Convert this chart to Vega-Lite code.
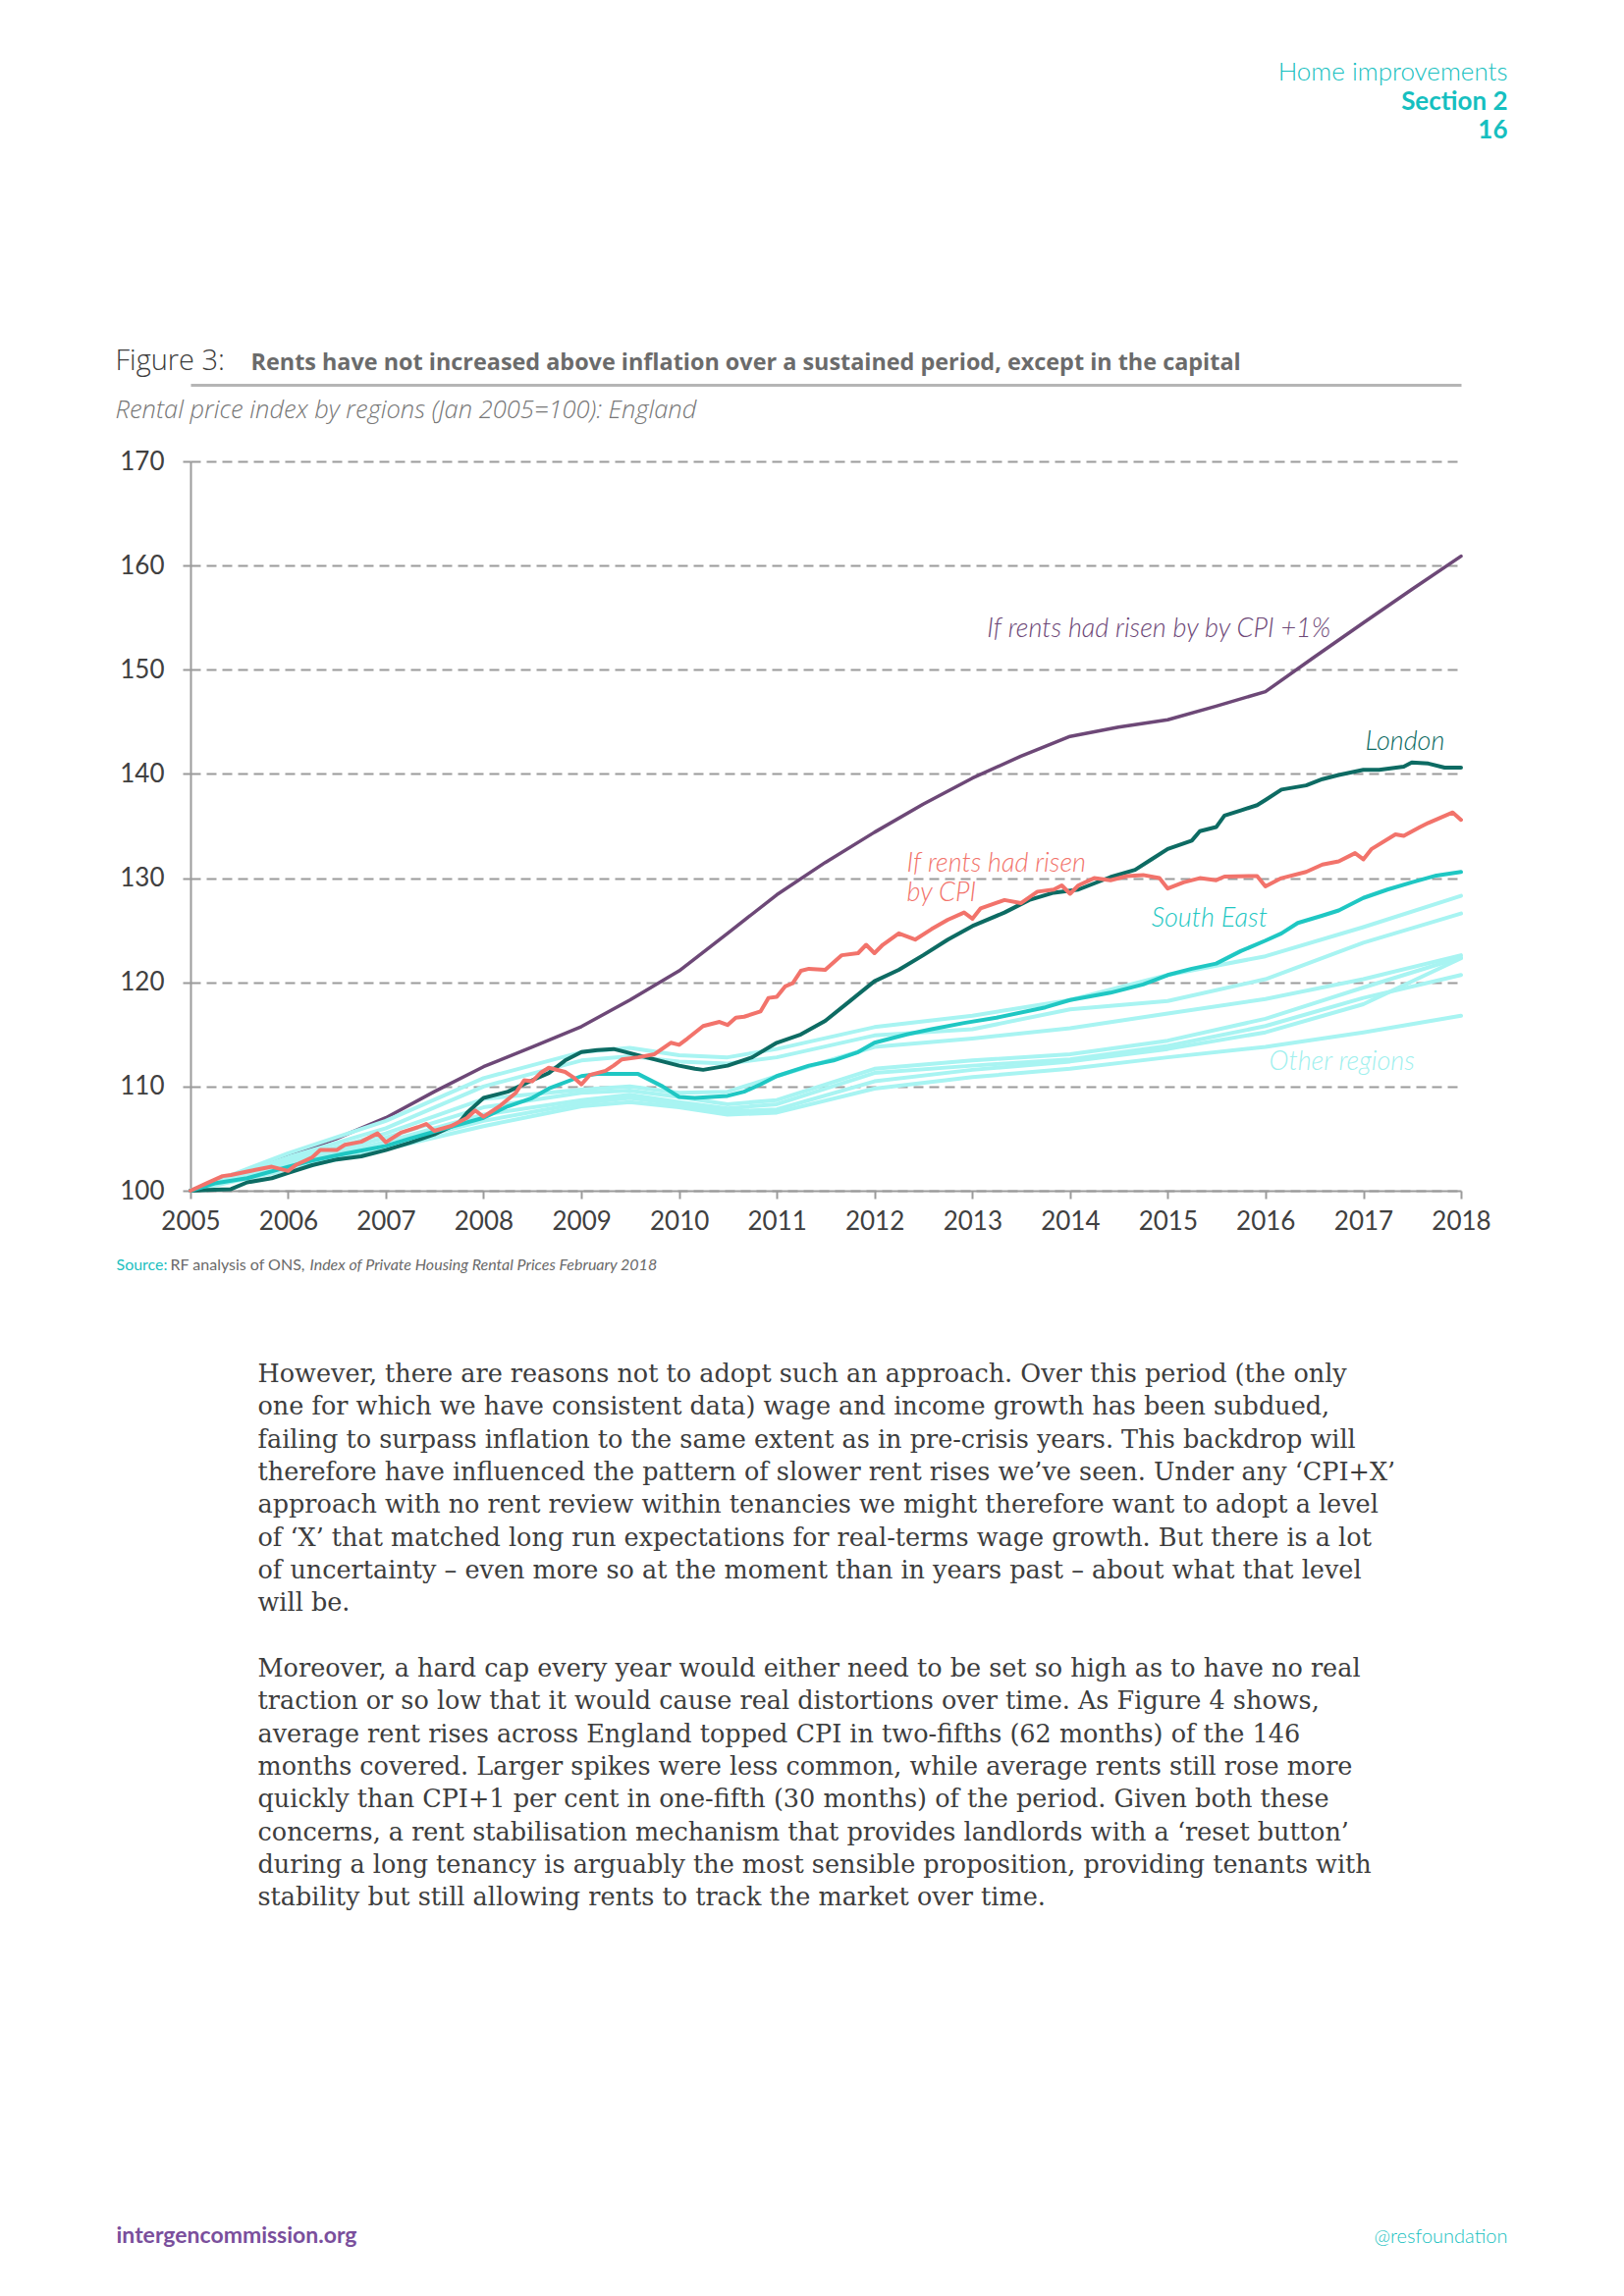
{
  "$schema": "https://vega.github.io/schema/vega-lite/v6.json",
  "autosize": {"type": "none"},
  "width": 1294,
  "height": 743,
  "padding": {"left": 194, "top": 470, "right": 166, "bottom": 1126},
  "background": "white",
  "config": {
    "view": {"stroke": null},
    "font": "Lato",
    "axis": {"labelFont": "Lato", "titleFont": "Lato", "titleLimit": 3000}
  },
  "datasets": {
    "rents": [
      {"series": "CPI +1%", "date": "2005-01-01", "value": 100},
      {"series": "CPI +1%", "date": "2005-07-01", "value": 101.6},
      {"series": "CPI +1%", "date": "2006-01-01", "value": 103.3},
      {"series": "CPI +1%", "date": "2006-07-01", "value": 105.0},
      {"series": "CPI +1%", "date": "2007-01-01", "value": 107.0},
      {"series": "CPI +1%", "date": "2007-07-01", "value": 109.5},
      {"series": "CPI +1%", "date": "2008-01-01", "value": 111.9},
      {"series": "CPI +1%", "date": "2008-07-01", "value": 113.8},
      {"series": "CPI +1%", "date": "2009-01-01", "value": 115.75},
      {"series": "CPI +1%", "date": "2009-07-01", "value": 118.3},
      {"series": "CPI +1%", "date": "2010-01-01", "value": 121.1},
      {"series": "CPI +1%", "date": "2010-07-01", "value": 124.7},
      {"series": "CPI +1%", "date": "2011-01-01", "value": 128.4},
      {"series": "CPI +1%", "date": "2011-07-01", "value": 131.5},
      {"series": "CPI +1%", "date": "2012-01-01", "value": 134.4},
      {"series": "CPI +1%", "date": "2012-07-01", "value": 137.1},
      {"series": "CPI +1%", "date": "2013-01-01", "value": 139.6},
      {"series": "CPI +1%", "date": "2013-07-01", "value": 141.7},
      {"series": "CPI +1%", "date": "2014-01-01", "value": 143.6},
      {"series": "CPI +1%", "date": "2014-07-01", "value": 144.5},
      {"series": "CPI +1%", "date": "2015-01-01", "value": 145.2},
      {"series": "CPI +1%", "date": "2015-07-01", "value": 146.5},
      {"series": "CPI +1%", "date": "2016-01-01", "value": 147.9},
      {"series": "CPI +1%", "date": "2016-07-01", "value": 151.2},
      {"series": "CPI +1%", "date": "2017-01-01", "value": 154.5},
      {"series": "CPI +1%", "date": "2017-07-01", "value": 157.7},
      {"series": "CPI +1%", "date": "2018-01-01", "value": 160.9},

      {"series": "South West", "date": "2005-01-01", "value": 100},
      {"series": "South West", "date": "2006-01-01", "value": 103.6},
      {"series": "South West", "date": "2007-01-01", "value": 106.7},
      {"series": "South West", "date": "2008-01-01", "value": 110.8},
      {"series": "South West", "date": "2009-01-01", "value": 113.3},
      {"series": "South West", "date": "2009-07-01", "value": 113.7},
      {"series": "South West", "date": "2010-01-01", "value": 113.0},
      {"series": "South West", "date": "2010-07-01", "value": 112.8},
      {"series": "South West", "date": "2011-01-01", "value": 113.6},
      {"series": "South West", "date": "2012-01-01", "value": 115.7},
      {"series": "South West", "date": "2013-01-01", "value": 116.8},
      {"series": "South West", "date": "2014-01-01", "value": 118.3},
      {"series": "South West", "date": "2015-01-01", "value": 120.7},
      {"series": "South West", "date": "2016-01-01", "value": 122.5},
      {"series": "South West", "date": "2017-01-01", "value": 125.3},
      {"series": "South West", "date": "2018-01-01", "value": 128.3},

      {"series": "East", "date": "2005-01-01", "value": 100},
      {"series": "East", "date": "2006-01-01", "value": 103.2},
      {"series": "East", "date": "2007-01-01", "value": 106.0},
      {"series": "East", "date": "2008-01-01", "value": 110.0},
      {"series": "East", "date": "2009-01-01", "value": 112.5},
      {"series": "East", "date": "2009-07-01", "value": 112.9},
      {"series": "East", "date": "2010-01-01", "value": 112.4},
      {"series": "East", "date": "2010-07-01", "value": 112.2},
      {"series": "East", "date": "2011-01-01", "value": 112.8},
      {"series": "East", "date": "2012-01-01", "value": 114.9},
      {"series": "East", "date": "2013-01-01", "value": 115.5},
      {"series": "East", "date": "2014-01-01", "value": 117.4},
      {"series": "East", "date": "2015-01-01", "value": 118.2},
      {"series": "East", "date": "2016-01-01", "value": 120.3},
      {"series": "East", "date": "2017-01-01", "value": 123.8},
      {"series": "East", "date": "2018-01-01", "value": 126.6},

      {"series": "East Midlands", "date": "2005-01-01", "value": 100},
      {"series": "East Midlands", "date": "2006-01-01", "value": 102.9},
      {"series": "East Midlands", "date": "2007-01-01", "value": 105.5},
      {"series": "East Midlands", "date": "2008-01-01", "value": 108.8},
      {"series": "East Midlands", "date": "2009-01-01", "value": 109.7},
      {"series": "East Midlands", "date": "2009-07-01", "value": 110.0},
      {"series": "East Midlands", "date": "2010-01-01", "value": 109.4},
      {"series": "East Midlands", "date": "2010-07-01", "value": 109.5},
      {"series": "East Midlands", "date": "2011-01-01", "value": 111.0},
      {"series": "East Midlands", "date": "2012-01-01", "value": 113.8},
      {"series": "East Midlands", "date": "2013-01-01", "value": 114.6},
      {"series": "East Midlands", "date": "2014-01-01", "value": 115.6},
      {"series": "East Midlands", "date": "2015-01-01", "value": 117.0},
      {"series": "East Midlands", "date": "2016-01-01", "value": 118.4},
      {"series": "East Midlands", "date": "2017-01-01", "value": 120.3},
      {"series": "East Midlands", "date": "2018-01-01", "value": 122.6},

      {"series": "West Midlands", "date": "2005-01-01", "value": 100},
      {"series": "West Midlands", "date": "2006-01-01", "value": 102.6},
      {"series": "West Midlands", "date": "2007-01-01", "value": 105.1},
      {"series": "West Midlands", "date": "2008-01-01", "value": 108.0},
      {"series": "West Midlands", "date": "2009-01-01", "value": 109.4},
      {"series": "West Midlands", "date": "2009-07-01", "value": 109.6},
      {"series": "West Midlands", "date": "2010-01-01", "value": 109.0},
      {"series": "West Midlands", "date": "2010-07-01", "value": 108.3},
      {"series": "West Midlands", "date": "2011-01-01", "value": 108.7},
      {"series": "West Midlands", "date": "2012-01-01", "value": 111.7},
      {"series": "West Midlands", "date": "2013-01-01", "value": 112.5},
      {"series": "West Midlands", "date": "2014-01-01", "value": 113.1},
      {"series": "West Midlands", "date": "2015-01-01", "value": 114.4},
      {"series": "West Midlands", "date": "2016-01-01", "value": 116.5},
      {"series": "West Midlands", "date": "2017-01-01", "value": 119.5},
      {"series": "West Midlands", "date": "2018-01-01", "value": 122.4},

      {"series": "North West", "date": "2005-01-01", "value": 100},
      {"series": "North West", "date": "2006-01-01", "value": 102.4},
      {"series": "North West", "date": "2007-01-01", "value": 104.7},
      {"series": "North West", "date": "2008-01-01", "value": 107.3},
      {"series": "North West", "date": "2009-01-01", "value": 108.7},
      {"series": "North West", "date": "2009-07-01", "value": 109.2},
      {"series": "North West", "date": "2010-01-01", "value": 108.5},
      {"series": "North West", "date": "2010-07-01", "value": 107.9},
      {"series": "North West", "date": "2011-01-01", "value": 108.3},
      {"series": "North West", "date": "2012-01-01", "value": 111.3},
      {"series": "North West", "date": "2013-01-01", "value": 112.0},
      {"series": "North West", "date": "2014-01-01", "value": 112.6},
      {"series": "North West", "date": "2015-01-01", "value": 113.9},
      {"series": "North West", "date": "2016-01-01", "value": 115.8},
      {"series": "North West", "date": "2017-01-01", "value": 118.5},
      {"series": "North West", "date": "2018-01-01", "value": 120.7},

      {"series": "Yorkshire and The Humber", "date": "2005-01-01", "value": 100},
      {"series": "Yorkshire and The Humber", "date": "2006-01-01", "value": 102.2},
      {"series": "Yorkshire and The Humber", "date": "2007-01-01", "value": 104.3},
      {"series": "Yorkshire and The Humber", "date": "2008-01-01", "value": 106.7},
      {"series": "Yorkshire and The Humber", "date": "2009-01-01", "value": 108.4},
      {"series": "Yorkshire and The Humber", "date": "2009-07-01", "value": 108.9},
      {"series": "Yorkshire and The Humber", "date": "2010-01-01", "value": 108.3},
      {"series": "Yorkshire and The Humber", "date": "2010-07-01", "value": 107.6},
      {"series": "Yorkshire and The Humber", "date": "2011-01-01", "value": 107.8},
      {"series": "Yorkshire and The Humber", "date": "2012-01-01", "value": 110.5},
      {"series": "Yorkshire and The Humber", "date": "2013-01-01", "value": 111.6},
      {"series": "Yorkshire and The Humber", "date": "2014-01-01", "value": 112.4},
      {"series": "Yorkshire and The Humber", "date": "2015-01-01", "value": 113.6},
      {"series": "Yorkshire and The Humber", "date": "2016-01-01", "value": 115.2},
      {"series": "Yorkshire and The Humber", "date": "2017-01-01", "value": 117.9},
      {"series": "Yorkshire and The Humber", "date": "2018-01-01", "value": 122.3},

      {"series": "North East", "date": "2005-01-01", "value": 100},
      {"series": "North East", "date": "2006-01-01", "value": 102.0},
      {"series": "North East", "date": "2007-01-01", "value": 104.0},
      {"series": "North East", "date": "2008-01-01", "value": 106.2},
      {"series": "North East", "date": "2009-01-01", "value": 108.1},
      {"series": "North East", "date": "2009-07-01", "value": 108.5},
      {"series": "North East", "date": "2010-01-01", "value": 108.0},
      {"series": "North East", "date": "2010-07-01", "value": 107.3},
      {"series": "North East", "date": "2011-01-01", "value": 107.5},
      {"series": "North East", "date": "2012-01-01", "value": 109.8},
      {"series": "North East", "date": "2013-01-01", "value": 110.9},
      {"series": "North East", "date": "2014-01-01", "value": 111.7},
      {"series": "North East", "date": "2015-01-01", "value": 112.8},
      {"series": "North East", "date": "2016-01-01", "value": 113.8},
      {"series": "North East", "date": "2017-01-01", "value": 115.2},
      {"series": "North East", "date": "2018-01-01", "value": 116.8},

      {"series": "London", "date": "2005-01-01", "value": 100},
      {"series": "London", "date": "2005-04-01", "value": 100.1},
      {"series": "London", "date": "2005-06-01", "value": 100.15},
      {"series": "London", "date": "2005-08-01", "value": 100.8},
      {"series": "London", "date": "2005-11-01", "value": 101.2},
      {"series": "London", "date": "2006-01-01", "value": 101.7},
      {"series": "London", "date": "2006-04-01", "value": 102.45},
      {"series": "London", "date": "2006-07-01", "value": 103.0},
      {"series": "London", "date": "2006-10-01", "value": 103.3},
      {"series": "London", "date": "2007-01-01", "value": 103.9},
      {"series": "London", "date": "2007-04-01", "value": 104.6},
      {"series": "London", "date": "2007-07-01", "value": 105.4},
      {"series": "London", "date": "2007-10-01", "value": 106.5},
      {"series": "London", "date": "2007-11-01", "value": 107.5},
      {"series": "London", "date": "2008-01-01", "value": 108.9},
      {"series": "London", "date": "2008-04-01", "value": 109.5},
      {"series": "London", "date": "2008-07-01", "value": 110.6},
      {"series": "London", "date": "2008-09-01", "value": 111.3},
      {"series": "London", "date": "2008-11-01", "value": 112.5},
      {"series": "London", "date": "2009-01-01", "value": 113.3},
      {"series": "London", "date": "2009-03-01", "value": 113.5},
      {"series": "London", "date": "2009-05-01", "value": 113.6},
      {"series": "London", "date": "2009-09-01", "value": 112.8},
      {"series": "London", "date": "2010-01-01", "value": 112.0},
      {"series": "London", "date": "2010-03-01", "value": 111.7},
      {"series": "London", "date": "2010-04-01", "value": 111.6},
      {"series": "London", "date": "2010-07-01", "value": 112.0},
      {"series": "London", "date": "2010-10-01", "value": 112.8},
      {"series": "London", "date": "2011-01-01", "value": 114.2},
      {"series": "London", "date": "2011-04-01", "value": 115.0},
      {"series": "London", "date": "2011-07-01", "value": 116.3},
      {"series": "London", "date": "2011-10-01", "value": 118.2},
      {"series": "London", "date": "2012-01-01", "value": 120.1},
      {"series": "London", "date": "2012-04-01", "value": 121.2},
      {"series": "London", "date": "2012-07-01", "value": 122.6},
      {"series": "London", "date": "2012-10-01", "value": 124.1},
      {"series": "London", "date": "2013-01-01", "value": 125.4},
      {"series": "London", "date": "2013-05-01", "value": 126.7},
      {"series": "London", "date": "2013-08-01", "value": 127.9},
      {"series": "London", "date": "2013-11-01", "value": 128.6},
      {"series": "London", "date": "2014-02-01", "value": 128.9},
      {"series": "London", "date": "2014-06-01", "value": 130.1},
      {"series": "London", "date": "2014-09-01", "value": 130.8},
      {"series": "London", "date": "2014-11-01", "value": 131.8},
      {"series": "London", "date": "2015-01-01", "value": 132.8},
      {"series": "London", "date": "2015-04-01", "value": 133.6},
      {"series": "London", "date": "2015-05-01", "value": 134.5},
      {"series": "London", "date": "2015-07-01", "value": 134.9},
      {"series": "London", "date": "2015-08-01", "value": 136.0},
      {"series": "London", "date": "2015-10-01", "value": 136.5},
      {"series": "London", "date": "2015-12-01", "value": 137.0},
      {"series": "London", "date": "2016-01-01", "value": 137.5},
      {"series": "London", "date": "2016-03-01", "value": 138.5},
      {"series": "London", "date": "2016-06-01", "value": 138.9},
      {"series": "London", "date": "2016-08-01", "value": 139.5},
      {"series": "London", "date": "2016-10-01", "value": 139.9},
      {"series": "London", "date": "2017-01-01", "value": 140.4},
      {"series": "London", "date": "2017-03-01", "value": 140.4},
      {"series": "London", "date": "2017-06-01", "value": 140.7},
      {"series": "London", "date": "2017-07-01", "value": 141.1},
      {"series": "London", "date": "2017-09-01", "value": 141.0},
      {"series": "London", "date": "2017-11-01", "value": 140.6},
      {"series": "London", "date": "2018-01-01", "value": 140.6},

      {"series": "South East", "date": "2005-01-01", "value": 100},
      {"series": "South East", "date": "2005-04-01", "value": 100.7},
      {"series": "South East", "date": "2005-08-01", "value": 101.2},
      {"series": "South East", "date": "2006-01-01", "value": 102.3},
      {"series": "South East", "date": "2006-04-01", "value": 102.9},
      {"series": "South East", "date": "2006-08-01", "value": 103.55},
      {"series": "South East", "date": "2007-01-01", "value": 104.3},
      {"series": "South East", "date": "2007-04-01", "value": 105.0},
      {"series": "South East", "date": "2007-08-01", "value": 105.9},
      {"series": "South East", "date": "2008-01-01", "value": 107.0},
      {"series": "South East", "date": "2008-04-01", "value": 108.1},
      {"series": "South East", "date": "2008-07-01", "value": 108.9},
      {"series": "South East", "date": "2008-09-01", "value": 109.8},
      {"series": "South East", "date": "2009-01-01", "value": 111.0},
      {"series": "South East", "date": "2009-03-01", "value": 111.2},
      {"series": "South East", "date": "2009-08-01", "value": 111.2},
      {"series": "South East", "date": "2009-11-01", "value": 110.0},
      {"series": "South East", "date": "2010-01-01", "value": 109.0},
      {"series": "South East", "date": "2010-03-01", "value": 108.9},
      {"series": "South East", "date": "2010-07-01", "value": 109.1},
      {"series": "South East", "date": "2010-09-01", "value": 109.5},
      {"series": "South East", "date": "2010-11-01", "value": 110.2},
      {"series": "South East", "date": "2011-01-01", "value": 111.0},
      {"series": "South East", "date": "2011-05-01", "value": 112.0},
      {"series": "South East", "date": "2011-08-01", "value": 112.5},
      {"series": "South East", "date": "2011-11-01", "value": 113.3},
      {"series": "South East", "date": "2012-01-01", "value": 114.2},
      {"series": "South East", "date": "2012-05-01", "value": 115.0},
      {"series": "South East", "date": "2012-08-01", "value": 115.5},
      {"series": "South East", "date": "2012-12-01", "value": 116.1},
      {"series": "South East", "date": "2013-04-01", "value": 116.6},
      {"series": "South East", "date": "2013-10-01", "value": 117.6},
      {"series": "South East", "date": "2014-01-01", "value": 118.3},
      {"series": "South East", "date": "2014-06-01", "value": 119.0},
      {"series": "South East", "date": "2014-10-01", "value": 119.8},
      {"series": "South East", "date": "2015-01-01", "value": 120.7},
      {"series": "South East", "date": "2015-04-01", "value": 121.3},
      {"series": "South East", "date": "2015-07-01", "value": 121.8},
      {"series": "South East", "date": "2015-10-01", "value": 123.0},
      {"series": "South East", "date": "2016-01-01", "value": 124.0},
      {"series": "South East", "date": "2016-03-01", "value": 124.7},
      {"series": "South East", "date": "2016-05-01", "value": 125.7},
      {"series": "South East", "date": "2016-08-01", "value": 126.4},
      {"series": "South East", "date": "2016-10-01", "value": 126.9},
      {"series": "South East", "date": "2017-01-01", "value": 128.1},
      {"series": "South East", "date": "2017-04-01", "value": 128.9},
      {"series": "South East", "date": "2017-07-01", "value": 129.6},
      {"series": "South East", "date": "2017-10-01", "value": 130.25},
      {"series": "South East", "date": "2018-01-01", "value": 130.6},

      {"series": "CPI", "date": "2005-01-01", "value": 100},
      {"series": "CPI", "date": "2005-03-01", "value": 100.7},
      {"series": "CPI", "date": "2005-05-01", "value": 101.4},
      {"series": "CPI", "date": "2005-06-01", "value": 101.5},
      {"series": "CPI", "date": "2005-09-01", "value": 102.0},
      {"series": "CPI", "date": "2005-11-01", "value": 102.3},
      {"series": "CPI", "date": "2006-01-01", "value": 101.9},
      {"series": "CPI", "date": "2006-02-01", "value": 102.5},
      {"series": "CPI", "date": "2006-04-01", "value": 103.2},
      {"series": "CPI", "date": "2006-05-01", "value": 103.9},
      {"series": "CPI", "date": "2006-07-01", "value": 103.9},
      {"series": "CPI", "date": "2006-08-01", "value": 104.4},
      {"series": "CPI", "date": "2006-10-01", "value": 104.7},
      {"series": "CPI", "date": "2006-12-01", "value": 105.5},
      {"series": "CPI", "date": "2007-01-01", "value": 104.65},
      {"series": "CPI", "date": "2007-03-01", "value": 105.6},
      {"series": "CPI", "date": "2007-05-01", "value": 106.1},
      {"series": "CPI", "date": "2007-06-01", "value": 106.4},
      {"series": "CPI", "date": "2007-07-01", "value": 105.75},
      {"series": "CPI", "date": "2007-09-01", "value": 106.2},
      {"series": "CPI", "date": "2007-11-01", "value": 107.0},
      {"series": "CPI", "date": "2007-12-01", "value": 107.7},
      {"series": "CPI", "date": "2008-01-01", "value": 107.1},
      {"series": "CPI", "date": "2008-03-01", "value": 108.1},
      {"series": "CPI", "date": "2008-05-01", "value": 109.4},
      {"series": "CPI", "date": "2008-06-01", "value": 110.6},
      {"series": "CPI", "date": "2008-07-01", "value": 110.5},
      {"series": "CPI", "date": "2008-08-01", "value": 111.3},
      {"series": "CPI", "date": "2008-09-01", "value": 111.8},
      {"series": "CPI", "date": "2008-11-01", "value": 111.4},
      {"series": "CPI", "date": "2008-12-01", "value": 110.9},
      {"series": "CPI", "date": "2009-01-01", "value": 110.2},
      {"series": "CPI", "date": "2009-02-01", "value": 111.1},
      {"series": "CPI", "date": "2009-04-01", "value": 111.5},
      {"series": "CPI", "date": "2009-05-01", "value": 112.0},
      {"series": "CPI", "date": "2009-06-01", "value": 112.6},
      {"series": "CPI", "date": "2009-08-01", "value": 112.8},
      {"series": "CPI", "date": "2009-10-01", "value": 113.1},
      {"series": "CPI", "date": "2009-12-01", "value": 114.2},
      {"series": "CPI", "date": "2010-01-01", "value": 114.0},
      {"series": "CPI", "date": "2010-02-01", "value": 114.6},
      {"series": "CPI", "date": "2010-04-01", "value": 115.8},
      {"series": "CPI", "date": "2010-06-01", "value": 116.2},
      {"series": "CPI", "date": "2010-07-01", "value": 115.9},
      {"series": "CPI", "date": "2010-08-01", "value": 116.6},
      {"series": "CPI", "date": "2010-09-01", "value": 116.7},
      {"series": "CPI", "date": "2010-11-01", "value": 117.2},
      {"series": "CPI", "date": "2010-12-01", "value": 118.5},
      {"series": "CPI", "date": "2011-01-01", "value": 118.6},
      {"series": "CPI", "date": "2011-02-01", "value": 119.6},
      {"series": "CPI", "date": "2011-03-01", "value": 119.9},
      {"series": "CPI", "date": "2011-04-01", "value": 121.1},
      {"series": "CPI", "date": "2011-05-01", "value": 121.3},
      {"series": "CPI", "date": "2011-07-01", "value": 121.2},
      {"series": "CPI", "date": "2011-09-01", "value": 122.6},
      {"series": "CPI", "date": "2011-11-01", "value": 122.8},
      {"series": "CPI", "date": "2011-12-01", "value": 123.6},
      {"series": "CPI", "date": "2012-01-01", "value": 122.8},
      {"series": "CPI", "date": "2012-02-01", "value": 123.6},
      {"series": "CPI", "date": "2012-04-01", "value": 124.7},
      {"series": "CPI", "date": "2012-06-01", "value": 124.1},
      {"series": "CPI", "date": "2012-08-01", "value": 125.1},
      {"series": "CPI", "date": "2012-10-01", "value": 126.0},
      {"series": "CPI", "date": "2012-12-01", "value": 126.7},
      {"series": "CPI", "date": "2013-01-01", "value": 126.1},
      {"series": "CPI", "date": "2013-02-01", "value": 127.1},
      {"series": "CPI", "date": "2013-05-01", "value": 127.9},
      {"series": "CPI", "date": "2013-07-01", "value": 127.6},
      {"series": "CPI", "date": "2013-09-01", "value": 128.7},
      {"series": "CPI", "date": "2013-11-01", "value": 128.9},
      {"series": "CPI", "date": "2013-12-01", "value": 129.3},
      {"series": "CPI", "date": "2014-01-01", "value": 128.5},
      {"series": "CPI", "date": "2014-02-01", "value": 129.3},
      {"series": "CPI", "date": "2014-04-01", "value": 130.0},
      {"series": "CPI", "date": "2014-06-01", "value": 129.8},
      {"series": "CPI", "date": "2014-08-01", "value": 130.2},
      {"series": "CPI", "date": "2014-10-01", "value": 130.3},
      {"series": "CPI", "date": "2014-12-01", "value": 130.0},
      {"series": "CPI", "date": "2015-01-01", "value": 129.0},
      {"series": "CPI", "date": "2015-03-01", "value": 129.6},
      {"series": "CPI", "date": "2015-05-01", "value": 130.0},
      {"series": "CPI", "date": "2015-07-01", "value": 129.8},
      {"series": "CPI", "date": "2015-08-01", "value": 130.15},
      {"series": "CPI", "date": "2015-12-01", "value": 130.2},
      {"series": "CPI", "date": "2016-01-01", "value": 129.2},
      {"series": "CPI", "date": "2016-03-01", "value": 130.0},
      {"series": "CPI", "date": "2016-06-01", "value": 130.6},
      {"series": "CPI", "date": "2016-08-01", "value": 131.3},
      {"series": "CPI", "date": "2016-10-01", "value": 131.6},
      {"series": "CPI", "date": "2016-12-01", "value": 132.4},
      {"series": "CPI", "date": "2017-01-01", "value": 131.8},
      {"series": "CPI", "date": "2017-02-01", "value": 132.8},
      {"series": "CPI", "date": "2017-05-01", "value": 134.2},
      {"series": "CPI", "date": "2017-06-01", "value": 134.05},
      {"series": "CPI", "date": "2017-08-01", "value": 134.9},
      {"series": "CPI", "date": "2017-09-01", "value": 135.3},
      {"series": "CPI", "date": "2017-12-01", "value": 136.3},
      {"series": "CPI", "date": "2018-01-01", "value": 135.6}
    ],
    "labels": [
      {"series": "CPI +1%", "label": "If rents had risen by by CPI +1%", "date": "2016-09-01", "value": 153.1},
      {"series": "London", "label": "London", "date": "2017-11-01", "value": 142.3},
      {"series": "CPI", "label": "If rents had risen", "date": "2012-05-01", "value": 130.6},
      {"series": "CPI", "label": "by CPI", "date": "2012-05-01", "value": 127.75},
      {"series": "South East", "label": "South East", "date": "2014-11-01", "value": 125.3},
      {"series": "Other regions", "label": "Other regions", "date": "2016-01-15", "value": 111.6}
    ]
  },
  "resolve": {"axis": {"x": "independent", "y": "independent"}},
  "encoding": {
    "color": {
      "field": "series",
      "type": "nominal",
      "legend": null,
      "scale": {
        "domain": ["CPI +1%", "London", "CPI", "South East", "South West", "East", "East Midlands", "West Midlands", "North West", "Yorkshire and The Humber", "North East", "Other regions"],
        "range": ["#6D4877", "#0D6B63", "#F2736B", "#1FC7C3", "#A8F4F2", "#A8F4F2", "#A8F4F2", "#A8F4F2", "#A8F4F2", "#A8F4F2", "#A8F4F2", "#9FF0EE"]
      }
    }
  },
  "layer": [
    {
      "data": {"name": "rents"},
      "transform": [{"filter": {"field": "series", "equal": "CPI +1%"}}],
      "mark": {"type": "line", "strokeWidth": 3.5, "strokeCap": "round", "strokeJoin": "round"},
      "encoding": {
        "x": {
          "field": "date", "type": "temporal",
          "scale": {"type": "utc", "nice": false, "domain": [{"year": 2005, "month": 1, "date": 1, "utc": true}, {"year": 2018, "month": 1, "date": 1, "utc": true}]},
          "axis": {
            "orient": "bottom",
            "values": [
              {"year": 2005, "month": 1, "date": 1, "utc": true}, {"year": 2006, "month": 1, "date": 1, "utc": true},
              {"year": 2007, "month": 1, "date": 1, "utc": true}, {"year": 2008, "month": 1, "date": 1, "utc": true},
              {"year": 2009, "month": 1, "date": 1, "utc": true}, {"year": 2010, "month": 1, "date": 1, "utc": true},
              {"year": 2011, "month": 1, "date": 1, "utc": true}, {"year": 2012, "month": 1, "date": 1, "utc": true},
              {"year": 2013, "month": 1, "date": 1, "utc": true}, {"year": 2014, "month": 1, "date": 1, "utc": true},
              {"year": 2015, "month": 1, "date": 1, "utc": true}, {"year": 2016, "month": 1, "date": 1, "utc": true},
              {"year": 2017, "month": 1, "date": 1, "utc": true}, {"year": 2018, "month": 1, "date": 1, "utc": true}
            ],
            "format": "%Y",
            "labelFontSize": 26, "labelFontWeight": 400, "labelColor": "#404040",
            "labelFlush": false, "labelOverlap": false, "labelBound": false, "labelPadding": 10,
            "ticks": true, "tickSize": 8, "tickColor": "#9b9b9b", "tickWidth": 2,
            "domain": true, "domainColor": "#9b9b9b", "domainWidth": 2,
            "grid": false,
            "title": "Source:",
            "titleX": -76, "titleY": 80, "titleAngle": 0, "titleAlign": "left", "titleBaseline": "alphabetic",
            "titleFontSize": 16, "titleFontWeight": 400, "titleColor": "#1DBFBF"
          }
        },
        "y": {
          "field": "value", "type": "quantitative",
          "scale": {"domain": [100, 170], "nice": false, "zero": false},
          "axis": {
            "orient": "left",
            "values": [100, 110, 120, 130, 140, 150, 160, 170],
            "labelFontSize": 26, "labelFontWeight": 400, "labelColor": "#404040", "labelPadding": 19,
            "labelFlush": false, "labelOverlap": false,
            "ticks": true, "tickSize": 8, "tickColor": "#9b9b9b", "tickWidth": 2,
            "domain": true, "domainColor": "#9b9b9b", "domainWidth": 2,
            "grid": true, "gridColor": "#9b9b9b", "gridDash": [10, 6], "gridWidth": 2,
            "title": "Rents have not increased above inflation over a sustained period, except in the capital",
            "titleX": 61, "titleY": -94, "titleAngle": 0, "titleAlign": "left", "titleBaseline": "alphabetic",
            "titleFont": "Open Sans", "titleFontSize": 23.4, "titleFontWeight": "bold", "titleColor": "#6b6b6b"
          }
        }
      }
    },
    {
      "data": {"name": "rents"},
      "transform": [{"filter": {"field": "series", "oneOf": ["South West", "East", "East Midlands", "West Midlands", "North West", "Yorkshire and The Humber", "North East"]}}],
      "mark": {"type": "line", "strokeWidth": 4, "strokeCap": "round", "strokeJoin": "round"},
      "encoding": {
        "x": {
          "field": "date", "type": "temporal",
          "scale": {"type": "utc", "nice": false, "domain": [{"year": 2005, "month": 1, "date": 1, "utc": true}, {"year": 2018, "month": 1, "date": 1, "utc": true}]},
          "axis": {
            "orient": "bottom", "domain": false, "ticks": false, "labels": false, "grid": false,
            "title": "RF analysis of ONS,",
            "titleX": -21, "titleY": 80, "titleAngle": 0, "titleAlign": "left", "titleBaseline": "alphabetic",
            "titleFontSize": 16, "titleFontWeight": 400, "titleColor": "#6a6a6a"
          }
        },
        "y": {
          "field": "value", "type": "quantitative",
          "scale": {"domain": [100, 170], "nice": false, "zero": false},
          "axis": {
            "orient": "left", "domain": false, "ticks": false, "labels": false, "grid": false,
            "title": "Figure 3:",
            "titleX": -77, "titleY": -94, "titleAngle": 0, "titleAlign": "left", "titleBaseline": "alphabetic",
            "titleFont": "Open Sans", "titleFontSize": 29, "titleFontWeight": 300, "titleColor": "#3c3c3c"
          }
        }
      }
    },
    {
      "data": {"name": "rents"},
      "transform": [{"filter": {"field": "series", "equal": "London"}}],
      "mark": {"type": "line", "strokeWidth": 4, "strokeCap": "round", "strokeJoin": "round"},
      "encoding": {
        "x": {
          "field": "date", "type": "temporal",
          "scale": {"type": "utc", "nice": false, "domain": [{"year": 2005, "month": 1, "date": 1, "utc": true}, {"year": 2018, "month": 1, "date": 1, "utc": true}]},
          "axis": {
            "orient": "bottom", "domain": false, "ticks": false, "labels": false, "grid": false,
            "title": "Index of Private Housing Rental Prices February 2018",
            "titleX": 121, "titleY": 80, "titleAngle": 0, "titleAlign": "left", "titleBaseline": "alphabetic",
            "titleFontSize": 16, "titleFontWeight": 400, "titleFontStyle": "italic", "titleColor": "#6a6a6a"
          }
        },
        "y": {
          "field": "value", "type": "quantitative",
          "scale": {"domain": [100, 170], "nice": false, "zero": false},
          "axis": {
            "orient": "left", "domain": false, "ticks": false, "labels": false, "grid": false,
            "title": "Rental price index by regions (Jan 2005=100): England",
            "titleX": -77, "titleY": -45, "titleAngle": 0, "titleAlign": "left", "titleBaseline": "alphabetic",
            "titleFont": "Open Sans", "titleFontSize": 25.5, "titleFontWeight": 300, "titleFontStyle": "italic", "titleColor": "#777777"
          }
        }
      }
    },
    {
      "data": {"name": "rents"},
      "transform": [{"filter": {"field": "series", "equal": "South East"}}],
      "mark": {"type": "line", "strokeWidth": 4, "strokeCap": "round", "strokeJoin": "round"},
      "encoding": {
        "x": {
          "field": "date", "type": "temporal",
          "scale": {"type": "utc", "nice": false, "domain": [{"year": 2005, "month": 1, "date": 1, "utc": true}, {"year": 2018, "month": 1, "date": 1, "utc": true}]},
          "axis": {
            "orient": "top", "offset": 78,
            "domain": true, "domainColor": "#b5b5b5", "domainWidth": 3,
            "ticks": false, "labels": false, "grid": false,
            "title": [
              "However, there are reasons not to adopt such an approach. Over this period (the only",
              "one for which we have consistent data) wage and income growth has been subdued,",
              "failing to surpass inflation to the same extent as in pre-crisis years. This backdrop will",
              "therefore have influenced the pattern of slower rent rises we’ve seen. Under any ‘CPI+X’",
              "approach with no rent review within tenancies we might therefore want to adopt a level",
              "of ‘X’ that matched long run expectations for real-terms wage growth. But there is a lot",
              "of uncertainty – even more so at the moment than in years past – about what that level",
              "will be."
            ],
            "titleX": 68, "titleY": 1015.5, "titleAngle": 0, "titleAlign": "left", "titleBaseline": "alphabetic",
            "titleFont": "DejaVu Serif", "titleFontSize": 25.5, "titleFontWeight": 400, "titleColor": "#3d3d3d",
            "titleLineHeight": 33.3
          }
        },
        "y": {
          "field": "value", "type": "quantitative",
          "scale": {"domain": [100, 170], "nice": false, "zero": false},
          "axis": {
            "orient": "right", "domain": false, "ticks": false, "labels": false, "grid": false,
            "title": "Home improvements",
            "titleX": 47, "titleY": -388.3, "titleAngle": 0, "titleAlign": "right", "titleBaseline": "alphabetic",
            "titleFontSize": 26, "titleFontWeight": 300, "titleColor": "#16BFC0"
          }
        }
      }
    },
    {
      "data": {"name": "rents"},
      "transform": [{"filter": {"field": "series", "equal": "CPI"}}],
      "mark": {"type": "line", "strokeWidth": 4, "strokeCap": "round", "strokeJoin": "round"},
      "encoding": {
        "x": {
          "field": "date", "type": "temporal",
          "scale": {"type": "utc", "nice": false, "domain": [{"year": 2005, "month": 1, "date": 1, "utc": true}, {"year": 2018, "month": 1, "date": 1, "utc": true}]},
          "axis": {
            "orient": "bottom", "domain": false, "ticks": false, "labels": false, "grid": false,
            "title": "intergencommission.org",
            "titleX": -76, "titleY": 1071, "titleAngle": 0, "titleAlign": "left", "titleBaseline": "alphabetic",
            "titleFontSize": 23, "titleFontWeight": "bold", "titleColor": "#7A4F9C"
          }
        },
        "y": {
          "field": "value", "type": "quantitative",
          "scale": {"domain": [100, 170], "nice": false, "zero": false},
          "axis": {
            "orient": "right", "domain": false, "ticks": false, "labels": false, "grid": false,
            "title": ["Section 2", "16"],
            "titleX": 47, "titleY": -358.3, "titleAngle": 0, "titleAlign": "right", "titleBaseline": "alphabetic",
            "titleFontSize": 26, "titleFontWeight": "bold", "titleColor": "#16BFC0", "titleLineHeight": 29
          }
        }
      }
    },
    {
      "data": {"name": "labels"},
      "transform": [{"filter": {"field": "series", "oneOf": ["CPI", "South East", "Other regions"]}}],
      "mark": {"type": "text", "align": "left", "baseline": "alphabetic", "font": "Lato", "fontSize": 27, "fontStyle": "italic", "fontWeight": 300},
      "encoding": {
        "x": {
          "field": "date", "type": "temporal",
          "scale": {"type": "utc", "nice": false, "domain": [{"year": 2005, "month": 1, "date": 1, "utc": true}, {"year": 2018, "month": 1, "date": 1, "utc": true}]},
          "axis": {
            "orient": "bottom", "domain": false, "ticks": false, "labels": false, "grid": false,
            "title": "@resfoundation",
            "titleX": 1341, "titleY": 1071, "titleAngle": 0, "titleAlign": "right", "titleBaseline": "alphabetic",
            "titleFontSize": 20, "titleFontWeight": 300, "titleColor": "#16BFC0"
          }
        },
        "y": {"field": "value", "type": "quantitative", "scale": {"domain": [100, 170], "nice": false, "zero": false}, "axis": null},
        "text": {"field": "label", "type": "nominal"}
      }
    },
    {
      "data": {"name": "labels"},
      "transform": [{"filter": {"field": "series", "oneOf": ["CPI +1%", "London"]}}],
      "mark": {"type": "text", "align": "right", "baseline": "alphabetic", "font": "Lato", "fontSize": 27, "fontStyle": "italic", "fontWeight": 300},
      "encoding": {
        "x": {
          "field": "date", "type": "temporal",
          "scale": {"type": "utc", "nice": false, "domain": [{"year": 2005, "month": 1, "date": 1, "utc": true}, {"year": 2018, "month": 1, "date": 1, "utc": true}]},
          "axis": {
            "orient": "bottom", "domain": false, "ticks": false, "labels": false, "grid": false,
            "title": [
              "Moreover, a hard cap every year would either need to be set so high as to have no real",
              "traction or so low that it would cause real distortions over time. As Figure 4 shows,",
              "average rent rises across England topped CPI in two-fifths (62 months) of the 146",
              "months covered. Larger spikes were less common, while average rents still rose more",
              "quickly than CPI+1 per cent in one-fifth (30 months) of the period. Given both these",
              "concerns, a rent stabilisation mechanism that provides landlords with a ‘reset button’",
              "during a long tenancy is arguably the most sensible proposition, providing tenants with",
              "stability but still allowing rents to track the market over time."
            ],
            "titleX": 68, "titleY": 494.5, "titleAngle": 0, "titleAlign": "left", "titleBaseline": "alphabetic",
            "titleFont": "DejaVu Serif", "titleFontSize": 25.5, "titleFontWeight": 400, "titleColor": "#3d3d3d",
            "titleLineHeight": 33.3
          }
        },
        "y": {"field": "value", "type": "quantitative", "scale": {"domain": [100, 170], "nice": false, "zero": false}, "axis": null},
        "text": {"field": "label", "type": "nominal"}
      }
    }
  ]
}
